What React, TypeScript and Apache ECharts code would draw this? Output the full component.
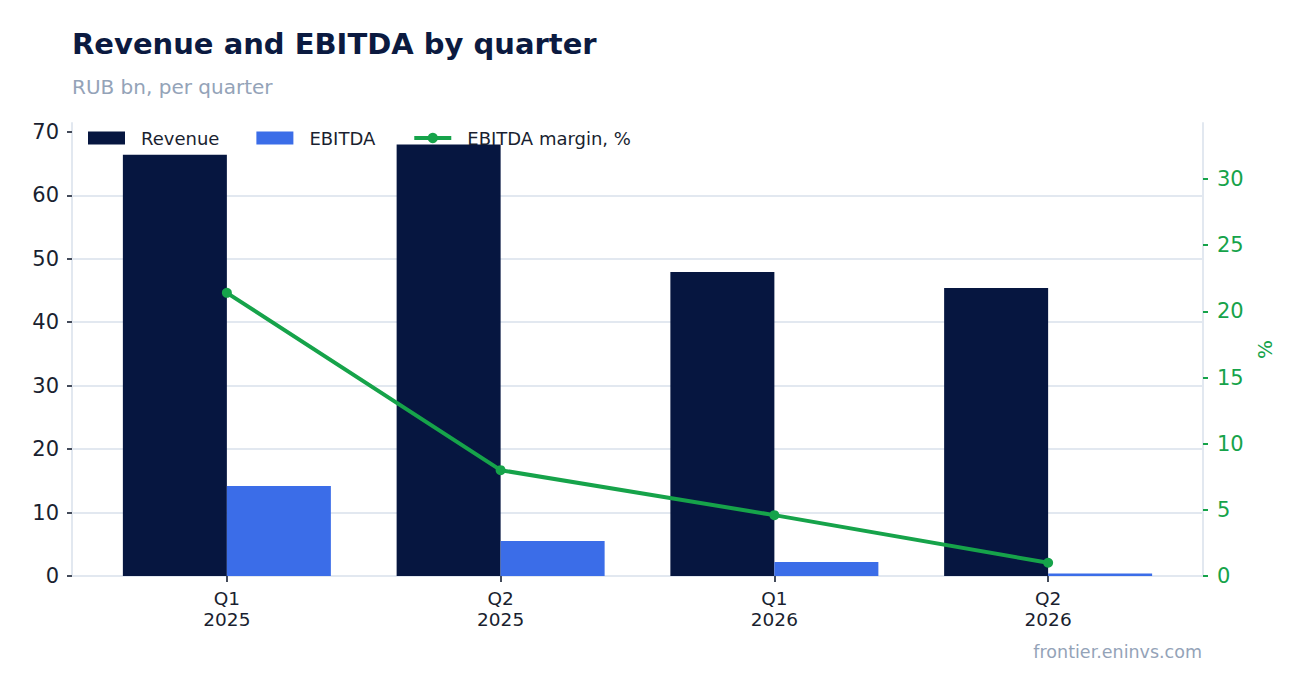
import React, { useEffect, useRef } from "react";
import * as echarts from "echarts";

const quarters = ["Q1\n2025", "Q2\n2025", "Q1\n2026", "Q2\n2026"];
const revenue = [66.4, 68.0, 47.9, 45.4];
const ebitda = [14.2, 5.5, 2.2, 0.4];
const margin = [21.4, 8.0, 4.6, 1.0];
const leftTicks = [0, 10, 20, 30, 40, 50, 60, 70];
const rightTicks = [0, 5, 10, 15, 20, 25, 30];

const TITLE = "Revenue and EBITDA by quarter";
const SUBTITLE = "RUB bn, per quarter";
const FOOTER = "frontier.eninvs.com";

const FONT = "DejaVu Sans";
const NAVY = "#061640";
const BLUE = "#3b6de8";
const GREEN = "#16a34a";
const GRIDC = "#e2e8f0";
const DARK = "#1a1f30";

export default function App() {
  const ref = useRef<HTMLDivElement>(null);
  useEffect(() => {
    if (!ref.current) return;
    const chart = echarts.init(ref.current, undefined, { renderer: "svg" });
    const leftMax = 71.4;
    const rightMax = 34.24;
    chart.setOption({
      animation: false,
      backgroundColor: "#ffffff",
      textStyle: { fontFamily: FONT },
      title: [
        { text: TITLE, left: 72, top: 29, padding: 0, textStyle: { fontFamily: FONT, fontSize: 29, fontWeight: "bold", color: "#0b1a40" } },
        { text: SUBTITLE, left: 72, top: 77, padding: 0, textStyle: { fontFamily: FONT, fontSize: 20, fontWeight: "normal", color: "#94a3b8" } },
        { text: FOOTER, right: 100, top: 643, padding: 0, textStyle: { fontFamily: FONT, fontSize: 17.5, fontWeight: "normal", color: "#94a3b8" } },
      ],
      legend: {
        left: 88,
        top: 129,
        padding: 0,
        itemWidth: 37,
        itemHeight: 13,
        itemGap: 37,
        textStyle: { fontFamily: FONT, fontSize: 18, color: DARK, padding: [0, 0, 0, 11] },
        data: [
          { name: "Revenue", icon: "rect" },
          { name: "EBITDA", icon: "rect" },
          { name: "EBITDA margin, %", lineStyle: { width: 4, color: GREEN } },
        ],
      },
      grid: [
        { left: 72, right: 99, top: 123, bottom: 117 },
        { left: 90, right: 117, top: 123, bottom: 117 },
      ],
      xAxis: [
        {
          gridIndex: 0,
          type: "value",
          min: 0,
          max: 1,
          axisLine: { show: true, onZero: false, lineStyle: { color: GRIDC, width: 2 } },
          axisTick: { show: false },
          axisLabel: { show: false },
          splitLine: { show: false },
        },
        {
          gridIndex: 1,
          type: "category",
          data: quarters,
          boundaryGap: true,
          axisLine: { show: false },
          axisTick: { show: true, alignWithLabel: true, length: 6, lineStyle: { color: "#444b5a", width: 2 } },
          axisLabel: { fontFamily: FONT, fontSize: 18.5, color: DARK, margin: 12, lineHeight: 21 },
        },
      ],
      yAxis: [
        {
          gridIndex: 0,
          type: "value",
          position: "left",
          min: 0,
          max: leftMax,
          interval: 10,
          axisLine: { show: true, lineStyle: { color: GRIDC, width: 2 } },
          axisTick: { show: true, length: 5, customValues: leftTicks, lineStyle: { color: "#444b5a", width: 2 } },
          axisLabel: { fontFamily: FONT, fontSize: 21, color: DARK, margin: 13, customValues: leftTicks },
          splitLine: { show: true, showMaxLine: false, lineStyle: { color: GRIDC, width: 2 } },
        },
        {
          gridIndex: 0,
          type: "value",
          position: "right",
          min: 0,
          max: rightMax,
          interval: 5,
          name: "%",
          nameLocation: "middle",
          nameGap: 47,
          nameTextStyle: { fontFamily: FONT, fontSize: 20, color: GREEN },
          axisLine: { show: true, lineStyle: { color: GRIDC, width: 2 } },
          axisTick: { show: true, length: 5, customValues: rightTicks, lineStyle: { color: GREEN, width: 2 } },
          axisLabel: { fontFamily: FONT, fontSize: 21, color: GREEN, margin: 14, customValues: rightTicks },
          splitLine: { show: false },
        },
        { gridIndex: 1, type: "value", min: 0, max: leftMax, show: false, splitLine: { show: false } },
        { gridIndex: 1, type: "value", min: 0, max: rightMax, show: false, splitLine: { show: false } },
      ],
      series: [
        {
          name: "Revenue",
          type: "bar",
          xAxisIndex: 1,
          yAxisIndex: 2,
          data: revenue,
          barWidth: 104,
          barGap: "0%",
          itemStyle: { color: NAVY },
        },
        {
          name: "EBITDA",
          type: "bar",
          xAxisIndex: 1,
          yAxisIndex: 2,
          data: ebitda,
          barWidth: 104,
          barGap: "0%",
          itemStyle: { color: BLUE },
        },
        {
          name: "EBITDA margin, %",
          type: "line",
          xAxisIndex: 1,
          yAxisIndex: 3,
          data: margin,
          symbol: "circle",
          symbolSize: 10,
          lineStyle: { color: GREEN, width: 4 },
          itemStyle: { color: GREEN },
          z: 5,
        },
      ],
    });
    return () => chart.dispose();
  }, []);
  return (
    <div
      ref={ref}
      style={{ position: "absolute", left: 0, top: 0, width: 1302, height: 693 }}
    />
  );
}
